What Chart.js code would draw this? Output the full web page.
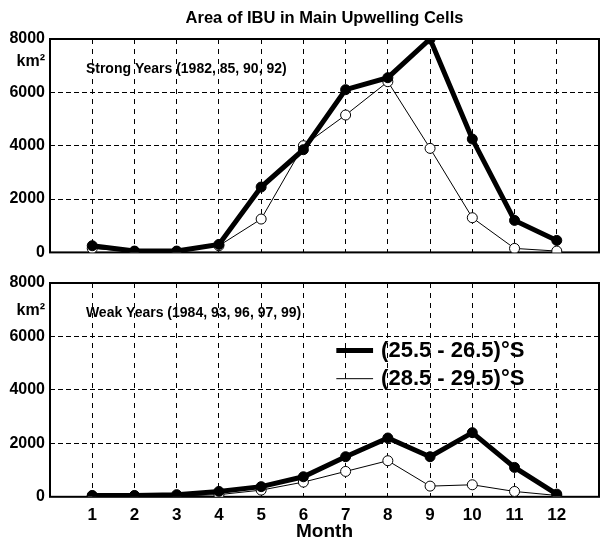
<!DOCTYPE html>
<html>
<head>
<meta charset="utf-8">
<script src="https://cdn.jsdelivr.net/npm/chart.js@4.4.1/dist/chart.umd.min.js"></script>
<style>
  html, body { margin: 0; padding: 0; background: #fff; }
  #wrap { position: relative; width: 605px; height: 548px; }
  .panel { position: absolute; left: 0; width: 605px; }
  #top { top: 0; height: 267px; }
  #bottom { top: 265px; height: 283px; }
</style>
</head>
<body>
<div id="wrap">
  <div class="panel" id="top"><canvas id="strong" width="605" height="267"></canvas></div>
  <div class="panel" id="bottom"><canvas id="weak" width="605" height="283"></canvas></div>
</div>
<script>
const FONT = "'Liberation Sans Narrow', 'Arial Narrow', 'Liberation Sans', Arial, sans-serif";

const months = [1, 2, 3, 4, 5, 6, 7, 8, 9, 10, 11, 12];
const seriesLabels = ["(25.5 - 26.5)°S", "(28.5 - 29.5)°S"];
const yTicks = [0, 2000, 4000, 6000, 8000];

// strong years (1982, 85, 90, 92)
const strongNorth = [250, 50, 50, 300, 2450, 3850, 6100, 6550, 8000, 4250, 1200, 450];
const strongSouth = [150, 30, 30, 250, 1250, 4000, 5150, 6400, 3900, 1300, 150, 50];

// weak years (1984, 93, 96, 97, 99)
const weakNorth = [50, 50, 80, 200, 380, 750, 1500, 2200, 1500, 2400, 1100, 100];
const weakSouth = [30, 30, 30, 80, 250, 550, 950, 1350, 400, 450, 200, 50];

const toPoints = (vals) => months.map((m, i) => ({ x: m, y: vals[i] }));

function makeDatasets(north, south) {
  return [
    {
      label: seriesLabels[0],
      data: toPoints(north),
      borderColor: "#000",
      backgroundColor: "#000",
      borderWidth: 5,
      pointRadius: 5,
      pointBorderWidth: 1,
      pointBackgroundColor: "#000",
      tension: 0,
    },
    {
      label: seriesLabels[1],
      data: toPoints(south),
      borderColor: "#000",
      backgroundColor: "#fff",
      borderWidth: 1,
      pointRadius: 5,
      pointBorderWidth: 1,
      pointBackgroundColor: "#fff",
      tension: 0,
    },
  ];
}

// frame, figure title, panel caption, km² unit and in-plot legend
const panelDecor = {
  id: "panelDecor",
  beforeDatasetsDraw(chart) {
    const { ctx, chartArea: a } = chart;
    ctx.save();
    ctx.strokeStyle = "#000";
    ctx.lineWidth = 2;
    ctx.strokeRect(a.left, a.top, a.right - a.left, a.bottom - a.top);
    ctx.restore();
  },
  afterDraw(chart, args, opts) {
    const { ctx, chartArea: a } = chart;
    const x = chart.scales.x, y = chart.scales.y;
    ctx.save();
    ctx.fillStyle = "#000";
    ctx.textBaseline = "middle";

    if (opts.title) {
      ctx.font = "bold 16.5px " + FONT;
      ctx.textAlign = "center";
      ctx.fillText(opts.title, (a.left + a.right) / 2, a.top - 21);
    }

    ctx.font = "bold 16px " + FONT;
    ctx.textAlign = "right";
    ctx.fillText("km²", y.right - 5, y.getPixelForValue(opts.unitAt));

    ctx.font = "bold 14px " + FONT;
    ctx.textAlign = "left";
    ctx.fillText(opts.caption, x.getPixelForValue(0.85), y.getPixelForValue(6880));

    if (opts.legend) {
      ctx.font = "bold 22px " + FONT;
      const rows = [5470, 4420];
      chart.data.datasets.forEach((ds, i) => {
        const py = y.getPixelForValue(rows[i]);
        ctx.beginPath();
        ctx.lineWidth = ds.borderWidth;
        ctx.strokeStyle = ds.borderColor;
        ctx.moveTo(x.getPixelForValue(6.78), py);
        ctx.lineTo(x.getPixelForValue(7.65), py);
        ctx.stroke();
        ctx.fillText(ds.label, x.getPixelForValue(7.84), py);
      });
    }
    ctx.restore();
  },
};

function makeOptions(cfg) {
  return {
    responsive: false,
    animation: false,
    layout: { padding: cfg.padding },
    plugins: {
      legend: { display: false },
      tooltip: { enabled: false },
      title: { display: false },
      panelDecor: { title: cfg.title, caption: cfg.caption, legend: cfg.legend, unitAt: cfg.unitAt },
    },
    scales: {
      x: {
        type: "linear",
        min: 0,
        max: 13,
        afterBuildTicks: (s) => { s.ticks = [0, ...months, 13].map((v) => ({ value: v })); },
        afterFit: (s) => {
          if (!cfg.showX) s.height = 0;
          s.paddingLeft = 0;
          s.paddingRight = 0;
        },
        ticks: {
          display: cfg.showX,
          color: "#000",
          padding: 8,
          font: { family: FONT, size: 17, weight: "bold" },
          callback: (v) => (v >= 1 && v <= 12 ? String(v) : ""),
        },
        grid: {
          drawTicks: false,
          lineWidth: 1,
          color: (c) => (c.tick && c.tick.value >= 1 && c.tick.value <= 12 ? "#000" : "rgba(0,0,0,0)"),
        },
        border: { display: false, dash: [5, 5] },
        title: cfg.showX
          ? {
              display: true,
              text: "Month",
              color: "#000",
              font: { family: FONT, size: 19, weight: "bold" },
              padding: { top: -13, bottom: 0 },
            }
          : { display: false },
      },
      y: {
        min: 0,
        max: 8000,
        afterBuildTicks: (s) => { s.ticks = yTicks.map((v) => ({ value: v })); },
        afterFit: (s) => { s.width = 50; },
        ticks: {
          color: "#000",
          padding: 5,
          font: { family: FONT, size: 16, weight: "bold" },
          callback: (v) => String(v),
        },
        grid: {
          drawTicks: false,
          lineWidth: 1,
          color: (c) => (c.tick && c.tick.value > 0 && c.tick.value < 8000 ? "#000" : "rgba(0,0,0,0)"),
        },
        border: { display: false, dash: [5, 3] },
      },
    },
  };
}

new Chart(document.getElementById("strong"), {
  type: "line",
  data: { datasets: makeDatasets(strongNorth, strongSouth) },
  options: makeOptions({
    title: "Area of IBU in Main Upwelling Cells",
    caption: "Strong Years (1982, 85, 90, 92)",
    legend: false,
    showX: false,
    unitAt: 7150,
    padding: { left: 0, right: 3, top: 39, bottom: 0 },
  }),
  plugins: [panelDecor],
});

new Chart(document.getElementById("weak"), {
  type: "line",
  data: { datasets: makeDatasets(weakNorth, weakSouth) },
  options: makeOptions({
    caption: "Weak Years (1984, 93, 96, 97, 99)",
    legend: true,
    showX: true,
    unitAt: 6950,
    padding: { left: 0, right: 3, top: 18, bottom: 5 },
  }),
  plugins: [panelDecor],
});
</script>
</body>
</html>
